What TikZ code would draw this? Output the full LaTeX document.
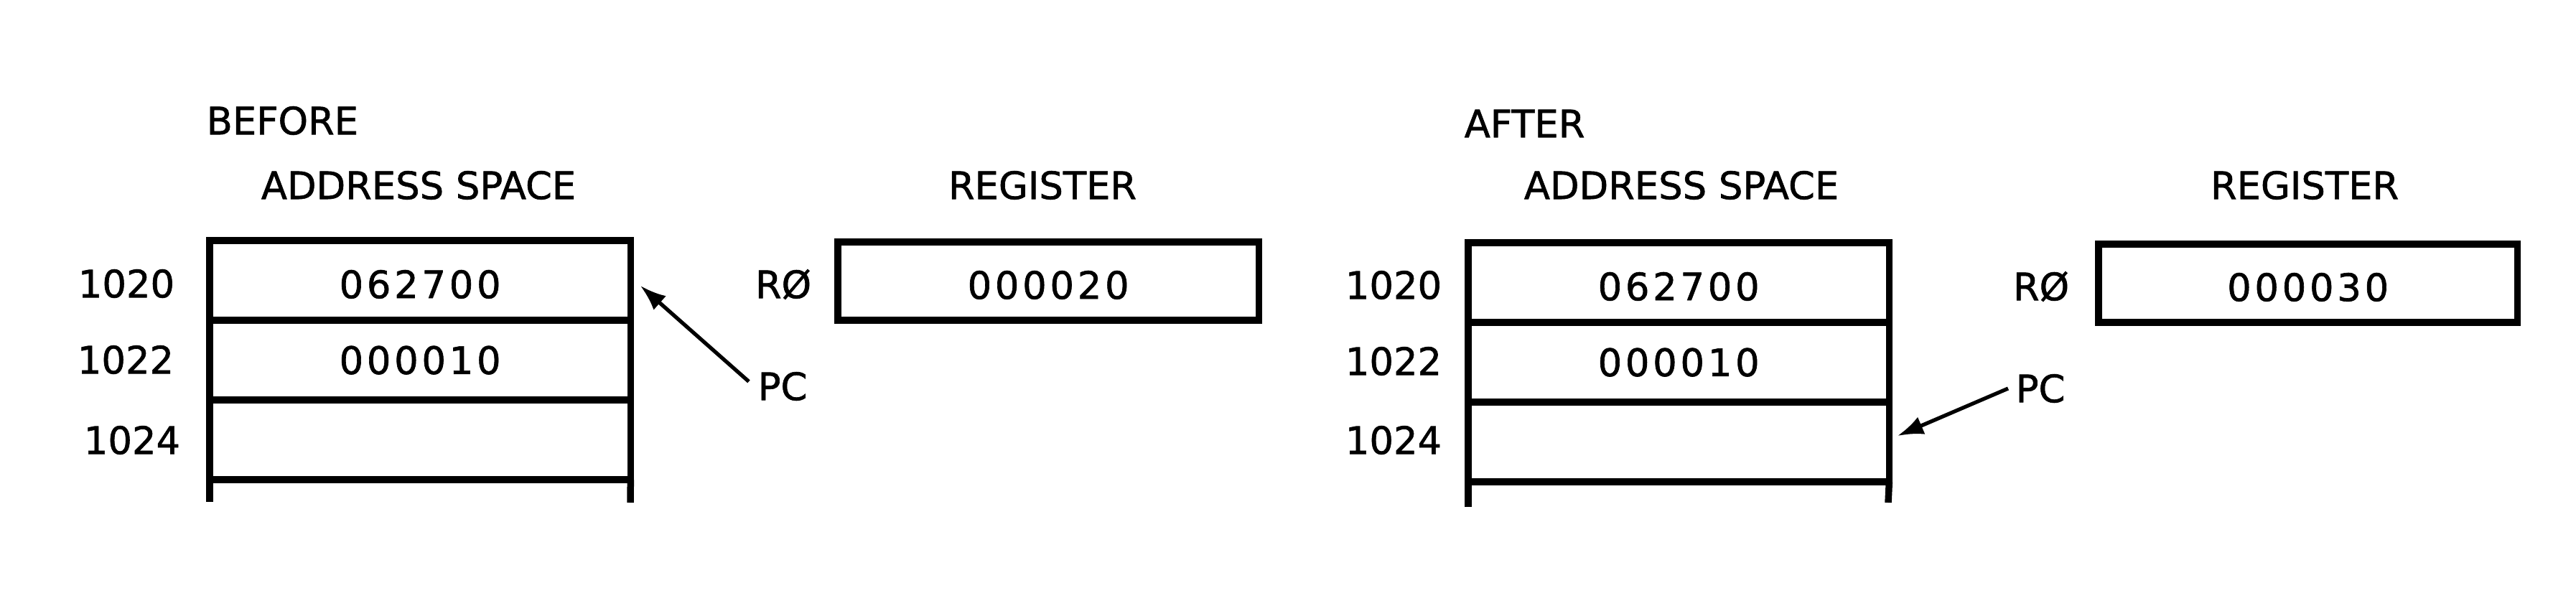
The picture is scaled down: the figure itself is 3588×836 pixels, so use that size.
\documentclass[tikz,border=0pt]{standalone}
\usepackage{fontspec}
\setmainfont{DejaVu Sans}[FakeBold=1.2]
\newfontfamily\cellfont{DejaVu Sans}[FakeBold=1.2, LetterSpace=9]
\usetikzlibrary{arrows.meta}
\begin{document}
\begin{tikzpicture}[x=0.01cm,y=-0.01cm,
  lbl/.style={inner sep=0pt, font=\fontsize{15}{18}\selectfont},
  cell/.style={draw, line width=2.7pt, outer sep=0pt, minimum width=5.86cm, minimum height=1.11cm, inner sep=0pt, anchor=north west, font=\cellfont\fontsize{15}{18}\selectfont},
  low/.style={text height=0.5cm},
  regbox/.style={cell, low, minimum height=1.09cm},
  ptr/.style={line width=1.5pt, -{Latex[length=0.36cm,width=0.26cm]}},
  wall/.style={line width=2.7pt}]
\fill[white] (0,0) rectangle (3588,836);
\useasboundingbox (0,0) rectangle (3588,836);

% ---------- BEFORE ----------
\node[lbl, anchor=west] (before) at (287,168) {BEFORE};
\node[lbl] (asL) at (583,258) {ADDRESS SPACE};
\node[lbl] (rgL) at (1452,258) {REGISTER};

\node[cell, low] (l1) at (292,335) {062700};
\node[cell] (l2) at (l1.south west) {000010};
\node[cell] (l3) at (l2.south west) {};
\coordinate (l3bw) at (292,699);
\coordinate (l3be) at (878,700);
\draw[wall] (l3.south west) -- (l3bw);
\draw[wall] (l3.south east) -- (l3be);

\node[lbl] (a1L) at (176,395) {1020};
\node[lbl] (a2L) at (175,501) {1022};
\node[lbl] (a3L) at (184,613) {1024};

\node[lbl] (r0L) at (1091,396) {RØ};
\node[regbox] (regL) at (1167,337) {000020};

\node[lbl] (pcL) at (1090,538) {PC};
\coordinate (tipL) at (892,398);
\draw[ptr] ([shift={(-0.12cm,-0.14cm)}]pcL.north west) -- (tipL);

% ---------- AFTER ----------
\node[lbl, anchor=west] (after) at (2039,172) {AFTER};
\node[lbl] (asR) at (2342,258) {ADDRESS SPACE};
\node[lbl] (rgR) at (3210,258) {REGISTER};

\node[cell, low] (r1) at (2045,338) {062700};
\node[cell] (r2) at (r1.south west) {000010};
\node[cell] (r3) at (r2.south west) {};
\coordinate (r3bw) at (2045,706);
\coordinate (r3be) at (2630,700);
\draw[wall] (r3.south west) -- (r3bw);
\draw[wall] (r3.south east) -- (r3be);

\node[lbl] (a1R) at (1941,397) {1020};
\node[lbl] (a2R) at (1941,503) {1022};
\node[lbl] (a3R) at (1941,613) {1024};

\node[lbl] (r0R) at (2843,399) {RØ};
\node[regbox, minimum width=5.83cm] (regR) at (2923,340) {000030};

\node[lbl] (pcR) at (2842,541) {PC};
\coordinate (tipR) at (2643,607);
\draw[ptr] ([xshift=-0.1cm]pcR.west) -- (tipR);
\end{tikzpicture}
\end{document}
